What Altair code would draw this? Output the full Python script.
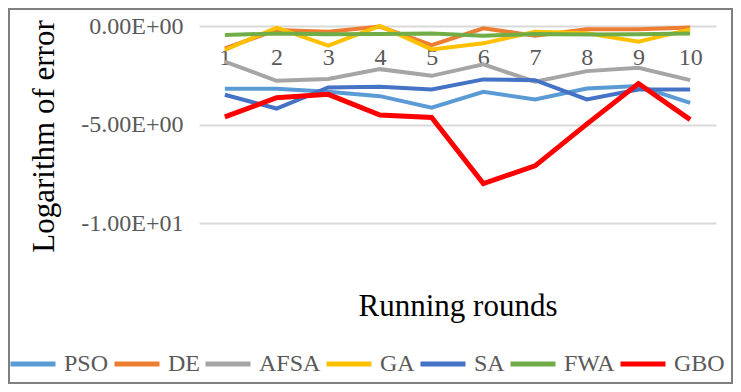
import altair as alt
import pandas as pd

rounds = [1, 2, 3, 4, 5, 6, 7, 8, 9, 10]
names = ["PSO", "DE", "AFSA", "GA", "SA", "FWA", "GBO"]
colors = ["#5B9BD5", "#ED7D31", "#A5A5A5", "#FFC000", "#4472C4", "#70AD47", "#FF0000"]

PSO = [-3.19, -3.19, -3.34, -3.56, -4.15, -3.34, -3.73, -3.17, -3.05, -3.90]
DE = [-1.14, -0.20, -0.29, -0.03, -0.97, -0.12, -0.49, -0.17, -0.17, -0.07]
AFSA = [-1.81, -2.78, -2.69, -2.19, -2.53, -1.95, -2.83, -2.29, -2.12, -2.75]
GA = [-1.22, -0.08, -1.00, 0.00, -1.19, -0.88, -0.29, -0.37, -0.80, -0.17]
SA = [-3.49, -4.19, -3.12, -3.08, -3.22, -2.71, -2.75, -3.73, -3.22, -3.22]
FWA = [-0.46, -0.38, -0.42, -0.40, -0.38, -0.50, -0.40, -0.43, -0.42, -0.38]
GBO = [-4.61, -3.64, -3.47, -4.52, -4.64, -8.00, -7.10, -4.98, -2.92, -4.75]

series = {"PSO": PSO, "DE": DE, "AFSA": AFSA, "GA": GA, "SA": SA, "FWA": FWA, "GBO": GBO}
rows = []
for n in names:
    for r, v in zip(rounds, series[n]):
        rows.append({"Round": r, "Value": v, "Algorithm": n})
df = pd.DataFrame(rows)

FONT = "Times New Roman, Liberation Serif, serif"
GREY = "#595959"
W, H = 517, 197

x_enc = alt.X(
    "Round:O",
    scale=alt.Scale(paddingOuter=0.5),
    axis=alt.Axis(
        orient="bottom", offset=-H, labelAngle=0, labelFont=FONT, labelFontSize=24,
        labelColor=GREY, labelPadding=19, ticks=False, domain=False, grid=False,
        title="Running rounds", titleFont=FONT, titleFontSize=31, titleFontWeight="normal",
        titleColor="#000000", titleY=289, titleBaseline="alphabetic",
    ),
)
y_enc = alt.Y(
    "Value:Q",
    scale=alt.Scale(domain=[-10, 0], nice=False, zero=False),
    axis=alt.Axis(
        values=[-10, -5, 0],
        labelExpr="(datum.value < 0 ? '-' : '') + replace(format(abs(datum.value), '.2e'), 'e+', 'E+0')",
        labelFont=FONT, labelFontSize=24, labelColor=GREY, labelPadding=16,
        ticks=False, domain=False, grid=True, gridColor="#D9D9D9", gridWidth=2,
        title="Logarithm of error", titleFont=FONT, titleFontSize=31, titleFontWeight="normal",
        titleColor="#000000", titleAngle=270, titleX=-139, titleY=110,
        titleAlign="center", titleBaseline="bottom",
    ),
)
color_enc = alt.Color(
    "Algorithm:N",
    scale=alt.Scale(domain=names, range=colors),
    legend=alt.Legend(
        title=None, orient="none", direction="horizontal", legendX=-191, legendY=313,
        symbolType="stroke", symbolSize=2025, symbolStrokeWidth=5,
        labelFont=FONT, labelFontSize=24, labelColor=GREY, labelOffset=6,
        columnPadding=-5, padding=0, columns=7,
    ),
)

base = alt.Chart(df).encode(x=x_enc, y=y_enc, color=color_enc)
layers = []
for n in names:
    layers.append(
        base.transform_filter(alt.datum.Algorithm == n).mark_line(
            strokeWidth=5 if n == "GBO" else 4, strokeJoin="miter"
        )
    )

frame = alt.Chart(pd.DataFrame({"a": [0]})).mark_rect(
    fill=None, stroke="#7F7F7F", strokeWidth=2
).encode(
    x=alt.value(-190), x2=alt.value(W + 16), y=alt.value(-17), y2=alt.value(H + 160)
)

chart = alt.layer(frame, *layers).properties(
    width=W, height=H,
    autosize=alt.AutoSizeParams(type="none"),
    padding={"left": 191, "top": 18, "right": 17, "bottom": 161},
    background="white",
).configure_view(stroke=None)

chart.save("out.html", embed_options={"renderer": "svg", "actions": False})
